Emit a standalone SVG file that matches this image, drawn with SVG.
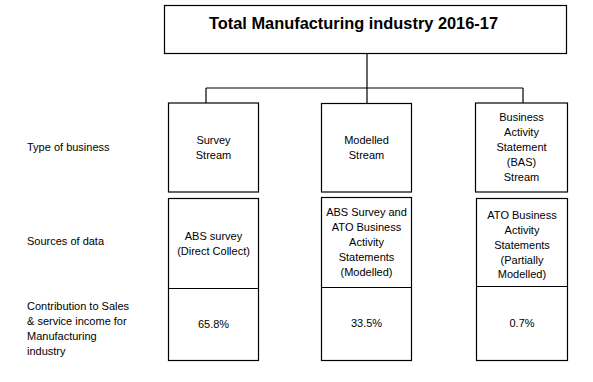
<svg xmlns="http://www.w3.org/2000/svg" width="593" height="382" viewBox="0 0 593 382">
<style>
.box{fill:#fff;stroke:#000;stroke-width:1.2}
.ln{fill:none;stroke:#000;stroke-width:1.2}
text{font-family:"Liberation Sans",Arial,sans-serif;font-size:11px;fill:#000}
.c{text-anchor:middle}
.t{font-size:16px;font-weight:bold}
</style>
<rect width="593" height="382" fill="#fff"/>
<g id="connectors">
<path class="ln" d="M367,53V88M206,88H523M206,88V103M367,88V103M523,88V103"/>
</g>
<g id="title">
<rect class="box" x="164.5" y="5.5" width="402" height="48"/>
<text class="c t" x="353.5" y="29" textLength="289" lengthAdjust="spacingAndGlyphs">Total Manufacturing industry 2016-17</text>
</g>
<g id="labels">
<text x="27" y="151">Type of business</text>
<text x="27" y="245">Sources of data</text>
<text x="27" y="310">Contribution to Sales</text>
<text x="27" y="325">&amp; service income for</text>
<text x="27" y="340">Manufacturing</text>
<text x="27" y="355">industry</text>
</g>
<g id="survey-stream">
<rect class="box" x="168.5" y="103" width="90" height="89"/>
<text class="c" x="213.5" y="144">Survey</text>
<text class="c" x="213.5" y="159">Stream</text>
</g>
<g id="modelled-stream">
<rect class="box" x="321.5" y="103.5" width="90" height="88.5"/>
<text class="c" x="366.5" y="144">Modelled</text>
<text class="c" x="366.5" y="159">Stream</text>
</g>
<g id="bas-stream">
<rect class="box" x="475.5" y="103" width="92" height="89"/>
<text class="c" x="521.5" y="121">Business</text>
<text class="c" x="521.5" y="136">Activity</text>
<text class="c" x="521.5" y="151">Statement</text>
<text class="c" x="521.5" y="166">(BAS)</text>
<text class="c" x="521.5" y="181">Stream</text>
</g>
<g id="survey-source">
<rect class="box" x="168.5" y="198.5" width="90" height="162"/>
<path class="ln" d="M168.5,288.5H258.5"/>
<text class="c" x="213.5" y="240">ABS survey</text>
<text class="c" x="213.5" y="255">(Direct Collect)</text>
<text class="c" x="213.5" y="328">65.8%</text>
</g>
<g id="modelled-source">
<rect class="box" x="321.5" y="197.5" width="90" height="163"/>
<path class="ln" d="M321.5,287.5H411.5"/>
<text class="c" x="366.5" y="216">ABS Survey and</text>
<text class="c" x="366.5" y="231">ATO Business</text>
<text class="c" x="366.5" y="246">Activity</text>
<text class="c" x="366.5" y="261">Statements</text>
<text class="c" x="366.5" y="276">(Modelled)</text>
<text class="c" x="366.5" y="327">33.5%</text>
</g>
<g id="bas-source">
<rect class="box" x="476.5" y="198.5" width="91" height="162"/>
<path class="ln" d="M476.5,286.5H567.5"/>
<text class="c" x="522" y="219">ATO Business</text>
<text class="c" x="522" y="234">Activity</text>
<text class="c" x="522" y="249">Statements</text>
<text class="c" x="522" y="264">(Partially</text>
<text class="c" x="522" y="278">Modelled)</text>
<text class="c" x="522" y="327">0.7%</text>
</g>
</svg>
